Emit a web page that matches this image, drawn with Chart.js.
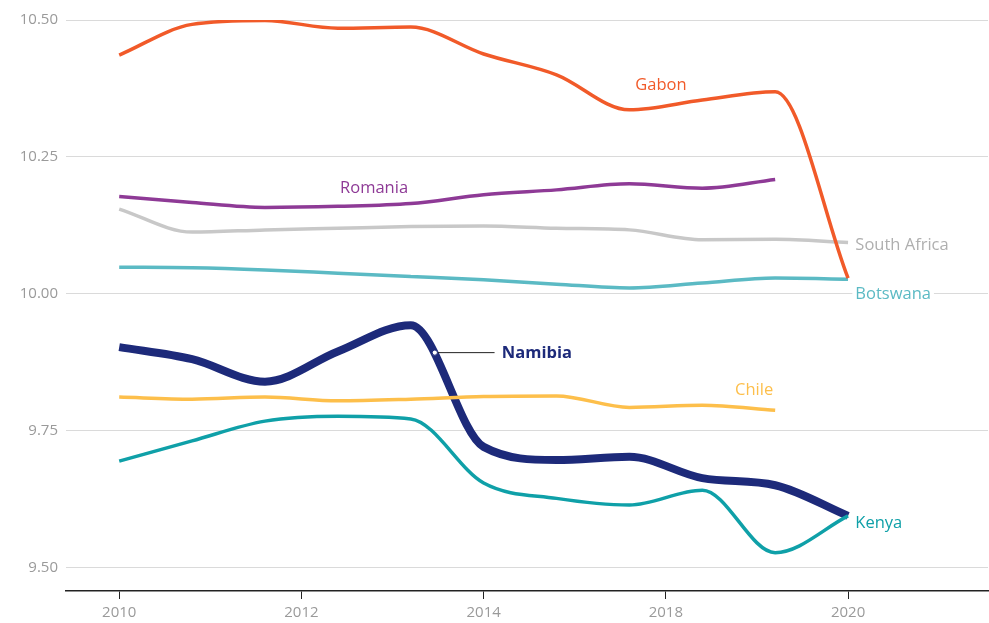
<!DOCTYPE html>
<html><head><meta charset="utf-8">
<script src="https://cdn.jsdelivr.net/npm/chart.js@4.4.1/dist/chart.umd.min.js"></script>
<style>html,body{margin:0;padding:0;background:#fff}#wrap{width:989px;height:623px;position:relative}</style>
</head><body><div id="wrap"><canvas id="c" width="989" height="623"></canvas></div>
<script>
const years = [2010,2011,2012,2013,2014,2015,2016,2017,2018,2019,2020];
const tickPositions = [2010,2012.5,2015,2017.5,2020];
const tickLabels = ["2010","2012","2014","2018","2020"];
const yTicks = [9.5,9.75,10.0,10.25,10.5];

const gabon   = [10.436,10.492,10.499,10.485,10.487,10.438,10.400,10.336,10.354,10.369,10.029];
const romania = [10.178,10.167,10.158,10.160,10.165,10.181,10.190,10.201,10.193,10.209];
const southAfrica = [10.155,10.113,10.117,10.120,10.123,10.124,10.120,10.117,10.099,10.100,10.094];
const botswana = [10.049,10.048,10.044,10.038,10.032,10.026,10.018,10.011,10.020,10.029,10.027];
const namibia = [9.903,9.881,9.840,9.895,9.943,9.721,9.697,9.703,9.664,9.651,9.595];
const chile   = [9.812,9.808,9.812,9.805,9.808,9.813,9.814,9.793,9.797,9.788];
const kenya   = [9.695,9.732,9.768,9.777,9.772,9.655,9.627,9.615,9.642,9.528,9.595];

const colors = {
  gabon:'#F15A29', romania:'#8E3A96', sa:'#C8C8C8', botswana:'#5BBAC4',
  namibia:'#1D2A7A', chile:'#FDBF4B', kenya:'#0FA0A8'
};
function pts(arr){ return arr.map((v,i)=>({x:years[i], y:v})); }
function ds(label, arr, color, w){
  return {label, data:pts(arr), borderColor:color, backgroundColor:color, borderWidth:w,
    pointRadius:0, pointHoverRadius:0, fill:false, cubicInterpolationMode:'monotone', borderCapStyle:'butt', borderJoinStyle:'round'};
}
const FONT = '"Open Sans", "Noto Sans", sans-serif';

const labelPlugin = {
  id:'labels',
  afterDatasetsDraw(chart){
    const ctx = chart.ctx, xs = chart.scales.x, ys = chart.scales.y;
    const X = v=>xs.getPixelForValue(v), Y = v=>ys.getPixelForValue(v);
    ctx.save();
    ctx.textBaseline = 'middle';
    ctx.textAlign = 'left';
    function txt(t, x, y, color, bold, bg){
      ctx.font = (bold?'bold ':'') + '16.5px ' + FONT;
      if(bg){
        const w = ctx.measureText(t).width;
        ctx.fillStyle = '#fff';
        ctx.fillRect(x-3, y-10, w+6, 20);
      }
      ctx.fillStyle = color;
      ctx.fillText(t, x, y);
    }
    txt('Gabon', X(2017.08), Y(10.381), colors.gabon);
    txt('Romania', X(2013.03), Y(10.158)-19, colors.romania);
    txt('South Africa', X(2020.1), Y(10.094)+3, '#AFAFAF');
    txt('Botswana', X(2020.1), Y(10.0), colors.botswana, false, true);
    txt('Chile', X(2018.45), Y(9.81)-7.5, colors.chile);
    txt('Kenya', X(2020.1), Y(9.595)+7, colors.kenya);
    // Namibia leader
    const px = X(2014.33), py = Y(9.893);
    ctx.strokeStyle = '#222'; ctx.lineWidth = 1;
    ctx.beginPath(); ctx.moveTo(px, py); ctx.lineTo(X(2015.15), py); ctx.stroke();
    ctx.beginPath(); ctx.arc(px, py, 2.6, 0, Math.PI*2); ctx.fillStyle='#fff'; ctx.fill();
    ctx.strokeStyle = '#1D2A7A'; ctx.lineWidth=1; ctx.stroke();
    txt('Namibia', X(2015.25), py+1, colors.namibia, true);
    ctx.restore();
  }
};

new Chart(document.getElementById('c'), {
  type:'line',
  data:{ datasets:[
    ds('Gabon', gabon, colors.gabon, 3.5),
    ds('Chile', chile, colors.chile, 3.5),
    ds('Kenya', kenya, colors.kenya, 3.5),
    ds('Namibia', namibia, colors.namibia, 8),
    ds('Romania', romania, colors.romania, 3.5),
    ds('South Africa', southAfrica, colors.sa, 3.5),
    ds('Botswana', botswana, colors.botswana, 3.5)
  ]},
  options:{
    responsive:false, animation:false, maintainAspectRatio:false,
    layout:{padding:{top:20, right:1, left:0, bottom:0}},
    plugins:{legend:{display:false}, tooltip:{enabled:false}},
    scales:{
      x:{ type:'linear', min:2009.27, max:2021.92,
        afterBuildTicks(s){ s.ticks = tickPositions.map(v=>({value:v})); },
        ticks:{ callback:(v)=>{const i=tickPositions.indexOf(v); return i>=0?tickLabels[i]:'';}, color:'#9A9A9A', font:{family:FONT, size:15}, padding:5, maxRotation:0, autoSkip:false },
        grid:{ drawOnChartArea:false, drawTicks:true, tickLength:8, color:'#222', tickWidth:1 },
        border:{ display:true, color:'#222', width:1.5 },
        afterFit(s){ s.height = 32; }
      },
      y:{ type:'linear', min:9.458, max:10.5,
        afterBuildTicks(s){ s.ticks = yTicks.map(v=>({value:v})); },
        ticks:{ callback:(v)=>v.toFixed(2), color:'#9A9A9A', font:{family:FONT, size:15}, padding:8 },
        grid:{ color:'#DADADA', lineWidth:1, drawTicks:false },
        border:{ display:false },
        afterFit(s){ s.width = 66; }
      }
    }
  },
  plugins:[labelPlugin]
});
</script></body></html>
